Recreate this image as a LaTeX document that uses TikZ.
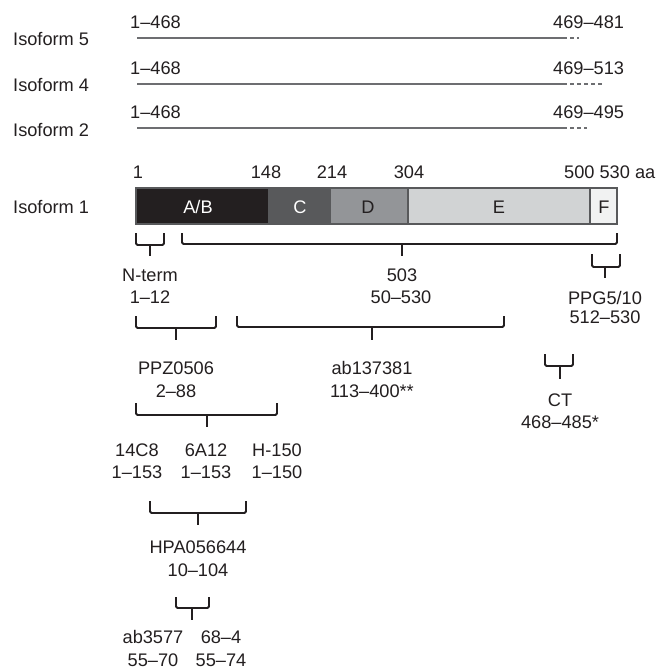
\documentclass[tikz,border=0pt]{standalone}
\usepackage{fontspec}
\setmainfont{Liberation Sans}
\definecolor{abk}{HTML}{231F20}
\definecolor{cgr}{HTML}{58595B}
\definecolor{dgr}{HTML}{939598}
\definecolor{egr}{HTML}{D1D3D4}
\definecolor{fgr}{HTML}{F1F2F2}
\definecolor{lgr}{HTML}{6D6E71}
\begin{document}
\begin{tikzpicture}[x=1pt,y=-1pt,
  lbl/.style={anchor=base,inner sep=0pt,font=\fontsize{18.2}{21}\selectfont,text=abk},
  lbll/.style={lbl,anchor=base west},
  isoline/.style={draw=lgr,line width=2.2pt},
  isodash/.style={draw=lgr,line width=1.3pt,dash pattern=on 3.5pt off 3.5pt},
  brk/.style={draw=abk,line width=1.8pt,rounded corners=1.5pt},
  stem/.style={draw=abk,line width=2.2pt},
  seg/.style={draw=cgr,line width=1.3pt}]
\useasboundingbox (0,0) rectangle (661,669);

% isoforms 5,4,2
\node[lbll] (i5) at (13,45.5) {Isoform 5};
\node[lbll] (i4) at (13,91.5) {Isoform 4};
\node[lbll] (i2) at (13,136.5) {Isoform 2};
\node[lbll] (a5) at (130,28.5) {1–468};
\node[lbll] (a4) at (130,74.5) {1–468};
\node[lbll] (a2) at (130,118.5) {1–468};
\node[lbll] (b5) at (553,28.5) {469–481};
\node[lbll] (b4) at (553,74.5) {469–513};
\node[lbll] (b2) at (553,118.5) {469–495};
\coordinate (s5) at (137,38); \coordinate (m5) at (563,38); \coordinate (e5) at (579,38);
\coordinate (s4) at (137,84); \coordinate (m4) at (563,84); \coordinate (e4) at (604,84);
\coordinate (s2) at (137,128); \coordinate (m2) at (563,128); \coordinate (e2) at (587,128);
\draw[isoline] (s5) -- (m5); \draw[isodash] (m5) -- (e5);
\draw[isoline] (s4) -- (m4); \draw[isodash] (m4) -- (e4);
\draw[isoline] (s2) -- (m2); \draw[isodash] (m2) -- (e2);

% isoform 1 bar
\node[lbll] (i1) at (13,213.5) {Isoform 1};
\fill[abk] (136,188) rectangle (268,224);
\fill[cgr] (268,188) rectangle (331,224);
\fill[dgr] (331,188) rectangle (408,224);
\fill[egr] (408,188) rectangle (590,224);
\fill[fgr] (590,188) rectangle (617,224);
\draw[seg] (408,188) -- (408,224);
\draw[seg] (590,188) -- (590,224);
\draw[seg] (136,188) rectangle (617,224);
\node[lbl,text=white] (sab) at (198,213.5) {A/B};
\node[lbl,text=white] (sc) at (300,213.5) {C};
\node[lbl] (sd) at (368,213.5) {D};
\node[lbl] (se) at (499,213.5) {E};
\node[lbl] (sf) at (604,213.5) {F};
\node[lbl] (p1) at (138,178.5) {1};
\node[lbl] (p148) at (266,178.5) {148};
\node[lbl] (p214) at (332,178.5) {214};
\node[lbl] (p304) at (409,178.5) {304};
\node[lbll] (p500) at (564,178.5) {500 530 aa};

% brackets: left, right, tick top, horizontal, stem x, stem bottom
\newcommand{\mybrk}[6]{%
  \draw[brk] (#1,#3) -- (#1,#4) -- (#2,#4) -- (#2,#3);
  \draw[stem] (#5,#4) -- (#5,#6);}

\mybrk{136}{164}{233}{245}{150}{256}
\node[lbl] (nt) at (150,281.5) {N-term};
\node[lbl] (nt2) at (150,303.5) {1–12};

\mybrk{182}{617}{233}{244}{402}{256}
\node[lbl] (r503) at (402,281.5) {503};
\node[lbl] (r5032) at (401,303.5) {50–530};

\mybrk{592}{620}{254}{267}{605}{278}
\node[lbl] (ppg) at (605,304.5) {PPG5/10};
\node[lbl] (ppg2) at (605,323.5) {512–530};

\mybrk{136}{216}{316}{328}{176}{340}
\node[lbl] (ppz) at (176,374.5) {PPZ0506};
\node[lbl] (ppz2) at (176,397.5) {2–88};

\mybrk{237}{504}{316}{327}{372}{340}
\node[lbl] (ab1) at (372,374.5) {ab137381};
\node[lbl] (ab12) at (372,397.5) {113–400**};

\mybrk{545}{573}{354}{366}{560}{379}
\node[lbl] (ct) at (560,406.5) {CT};
\node[lbl] (ct2) at (560,428.5) {468–485*};

\mybrk{136}{277}{403}{415}{207}{427}
\node[lbl] (c14) at (137,456.5) {14C8};
\node[lbl] (c6a) at (206,456.5) {6A12};
\node[lbl] (ch) at (277,456.5) {H-150};
\node[lbl] (c142) at (137,478.5) {1–153};
\node[lbl] (c6a2) at (206,478.5) {1–153};
\node[lbl] (ch2) at (277,478.5) {1–150};

\mybrk{150}{246}{501}{513}{198}{525}
\node[lbl] (hpa) at (198,553.5) {HPA056644};
\node[lbl] (hpa2) at (198,576.5) {10–104};

\mybrk{176}{209}{597}{608}{192}{620}
\node[lbl] (ab3) at (153,643.5) {ab3577};
\node[lbl] (c68) at (221,643.5) {68–4};
\node[lbl] (ab32) at (153,666.5) {55–70};
\node[lbl] (c682) at (221,666.5) {55–74};
\end{tikzpicture}
\end{document}
